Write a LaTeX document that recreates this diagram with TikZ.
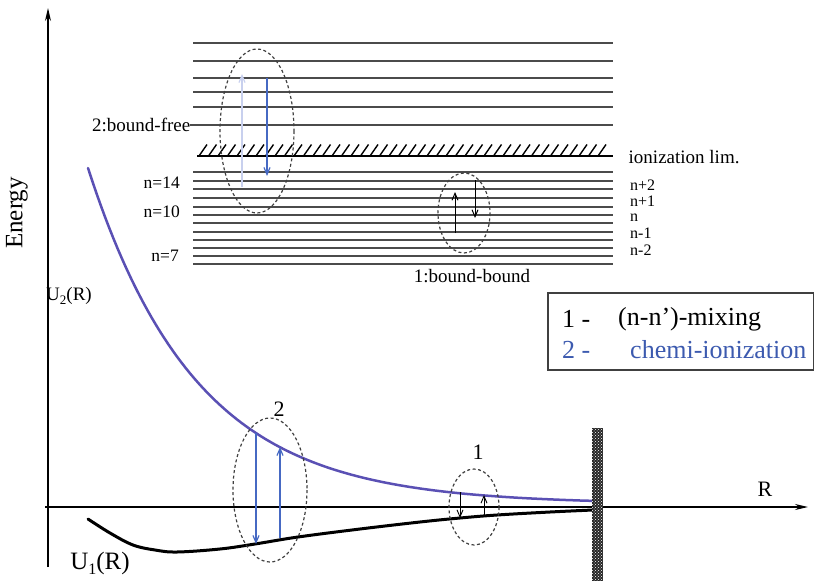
\documentclass[tikz,border=0pt]{standalone}
\usepackage{fontspec}
\setmainfont{Liberation Serif}
\usetikzlibrary{arrows.meta,patterns}
\definecolor{pot}{RGB}{90,80,180}
\definecolor{tblue}{RGB}{70,105,195}
\definecolor{pale}{RGB}{200,208,238}
\definecolor{lvl}{RGB}{75,75,75}
\definecolor{legblue}{RGB}{60,90,175}
\newcommand\lowidx[2]{\raisebox{-0.45ex}{\fontsize{#1}{#1}\selectfont #2}}
\tikzset{
  lev/.style={lvl, line width=1.6pt},
  small/.style={font=\fontsize{19}{19}\selectfont, inner sep=0.5pt},
  tiny/.style={font=\fontsize{17.5}{17.5}\selectfont, inner sep=0pt},
  side/.style={font=\fontsize{16}{16}\selectfont, inner sep=0pt, anchor=base west},
  mid/.style={font=\fontsize{22}{22}\selectfont, inner sep=1pt},
  leg/.style={font=\fontsize{26}{26}\selectfont, inner sep=1pt, anchor=west},
  region/.style={draw=black!75, dash pattern=on 3pt off 2.5pt, line width=1.2pt},
  axisline/.style={black, line width=1.5pt, -{Stealth[length=13pt,width=6pt]}},
  tarrow/.style={line width=1.2pt, -{Straight Barb[length=7pt,width=6pt]}},
}
\begin{document}
\begin{tikzpicture}[x=1pt,y=-1pt]
\useasboundingbox (0,0) rectangle (814,581);
% axes
\coordinate (yb) at (48,567);
\coordinate (yt) at (48,8);
\coordinate (xl) at (45,507);
\coordinate (xr) at (808,507);
\draw[axisline] (yb) -- (yt);
\draw[axisline] (xl) -- (xr);
\node[rotate=90, font=\fontsize{25}{25}\selectfont] (energy) at (17,213) {Energy};
\node[mid] (Rlab) at (765,489) {R};
% energy levels
\foreach \yy in {43,61,78,92,107,172,181,189,198,207,215,223,232,240,248,256,264}
  \draw[lev] (193,\yy) -- (613,\yy);
\draw[lev] (190,125) -- (613,125);
% ionization limit hatch
\draw[black, line width=1.8pt] (197,156) -- (613,156);
\foreach \xx in {199,208.5,...,606}
  \draw[black, line width=1.4pt] (\xx,156) -- (\xx+8,144.5);
% level labels
\node[small, anchor=east] (bf) at (191,125) {2:bound-free};
\node[tiny, anchor=east] (n14) at (180,183) {n=14};
\node[tiny, anchor=east] (n10) at (180,212) {n=10};
\node[tiny, anchor=east] (n7) at (179,256) {n=7};
\node[small, anchor=west] (ion) at (628,157) {ionization lim.};
\node[side] (np2) at (630,190) {n+2};
\node[side] (np1) at (630,206) {n+1};
\node[side] (n0) at (630,221) {n};
\node[side] (nm1) at (630,238.5) {n-1};
\node[side] (nm2) at (630,255.5) {n-2};
\node[small] (bb) at (472,276) {1:bound-bound};
% bound-free region
\draw[region] (257,131) ellipse [x radius=37, y radius=82];
\coordinate (pa) at (242,187);
\coordinate (pb) at (242,74);
\draw[tarrow, pale] (pa) -- (pb);
\coordinate (ba) at (267,78);
\coordinate (bb2) at (267,176);
\draw[tarrow, tblue] (ba) -- (bb2);
% bound-bound region
\draw[region] (464,213) ellipse [x radius=26, y radius=40];
\coordinate (ua) at (455,233);
\coordinate (ub) at (455,192);
\draw[tarrow, black, line width=1pt] (ua) -- (ub);
\coordinate (da) at (475,180);
\coordinate (db) at (475,218);
\draw[tarrow, black, line width=1pt] (da) -- (db);
% legend
\draw[black!75, line width=1.1pt] (548,293) rectangle (813.4,370);
\node[leg] (l1) at (561,319) {1 -};
\node[leg] (l1t) at (617,319) {(n-n')-mixing};
\node[leg, legblue] (l2) at (561,350) {2 -};
\node[leg, legblue] (l2t) at (629,350) {chemi-ionization};
% potential curves
\draw[pot, line width=2.5pt, line cap=round] plot[domain=88:593, samples=120] (\x, {507-336*exp(-(\x-88)/108)-3});
\draw[black, line width=3pt, line cap=round] plot[smooth, tension=0.6] coordinates
  {(88,519) (110,533) (133,545) (155,550) (177,552) (220,549) (255,544) (298,537) (360,529) (420,522) (460,518) (497,515) (550,512) (593,510)};
\node[font=\fontsize{19}{19}\selectfont, inner sep=1pt] (U2) at (69,296) {U\lowidx{13}{2}(R)};
\node[font=\fontsize{25}{25}\selectfont, inner sep=1pt] (U1) at (100,563) {U\lowidx{16}{1}(R)};
% wall
\fill[black!85] (592,428) rectangle (603,581);
\fill[pattern=crosshatch dots, pattern color=white] (592,428) rectangle (603,581);
% region 2 (chemi-ionization)
\draw[region] (270,490) ellipse [x radius=37, y radius=72];
\node[mid] (two) at (279,409) {2};
\coordinate (c2a) at (256,433);
\coordinate (c2b) at (256,544);
\draw[tarrow, tblue] (c2a) -- (c2b);
\coordinate (c2c) at (280,538);
\coordinate (c2d) at (280,447);
\draw[tarrow, tblue] (c2c) -- (c2d);
% region 1 (mixing)
\draw[region] (474,507) ellipse [x radius=25, y radius=38];
\node[mid] (one) at (478,452) {1};
\coordinate (c1a) at (460,492);
\coordinate (c1b) at (460,518);
\draw[tarrow, black, line width=0.9pt] (c1a) -- (c1b);
\coordinate (c1c) at (484,516);
\coordinate (c1d) at (484,495);
\draw[tarrow, black, line width=0.9pt] (c1c) -- (c1d);
\end{tikzpicture}
\end{document}
